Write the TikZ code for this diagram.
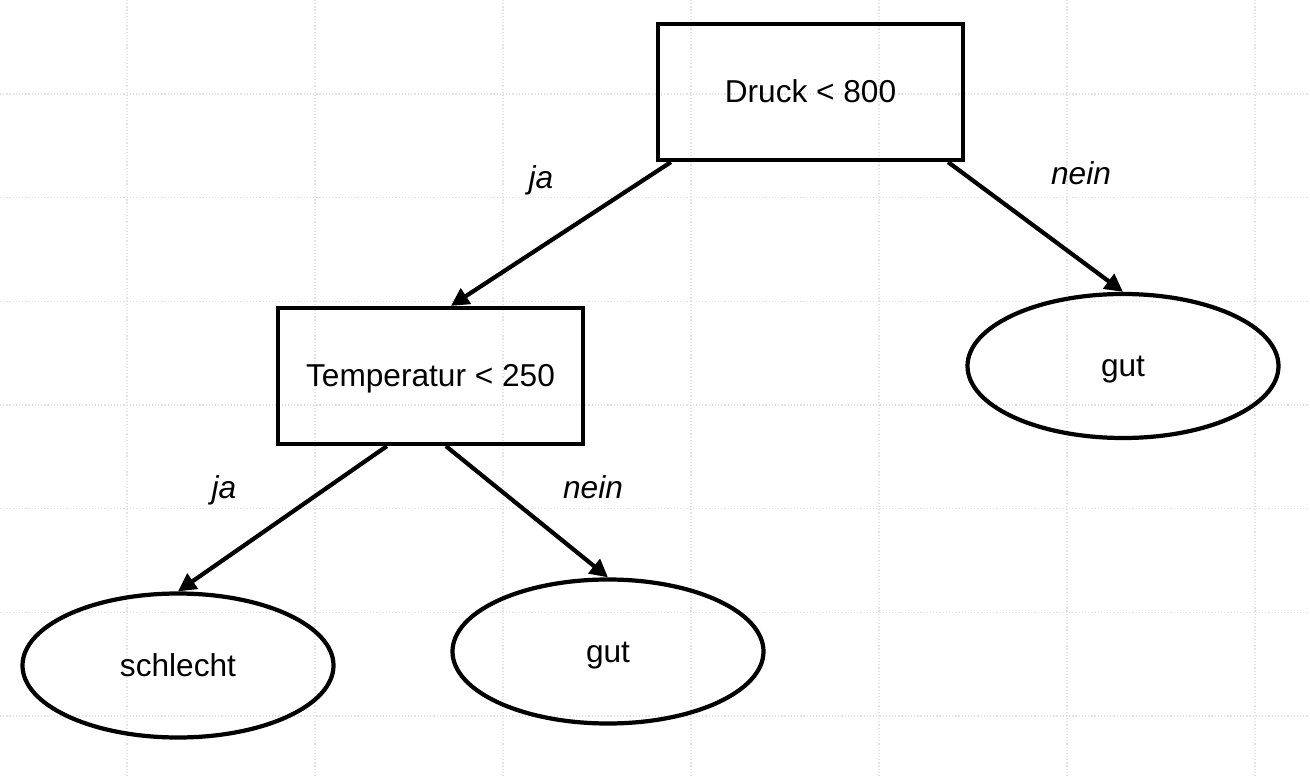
\documentclass[tikz,border=0pt]{standalone}
\usepackage{fontspec}
\setmainfont{Liberation Sans}
\usetikzlibrary{positioning,shapes.geometric,arrows.meta}

\begin{document}
\begin{tikzpicture}[
  test/.style={draw, line width=2.4pt, rectangle, minimum width=6.1cm, minimum height=2.72cm, text height=12pt, text depth=0pt, font=\fontsize{18}{21}\selectfont},
  leaf/.style={draw, line width=2.4pt, ellipse, inner sep=0pt, minimum width=6.22cm, minimum height=2.88cm, text height=12pt, text depth=0pt, font=\fontsize{18}{21}\selectfont},
  answer/.style={font=\fontsize{18}{21}\selectfont\itshape},
  branch/.style={line width=2.4pt, -{Triangle[length=0.36cm,width=0.36cm]}},
  raster/.style={gray!22, line width=0.7pt, dash pattern=on 0.7pt off 1.1pt}
]
\useasboundingbox (0,0) rectangle (26.2,-15.56);
\foreach \x in {2.54,6.3,...,25.2} \draw[raster] (\x,0) -- (\x,-15.56);
\foreach \y in {-1.88,-3.953,...,-15} \draw[raster] (0,\y) -- (26.2,\y);

\node[test] (node_druck) at (16.21,-1.84) {Druck < 800};
\node[test] (node_temp) at (8.61,-7.52) {Temperatur < 250};
\node[leaf] (node_gut_a) at (22.46,-7.32) {gut};
\node[leaf] (node_schlecht) at (3.56,-13.31) {schlecht};
\node[leaf] (node_gut_b) at (12.16,-13.03) {gut};

\node[answer] (ja_a) at (10.82,-3.6) {ja};
\node[answer] (nein_a) at (21.62,-3.46) {nein};
\node[answer] (ja_b) at (4.48,-9.8) {ja};
\node[answer] (nein_b) at (11.86,-9.74) {nein};

\draw[branch] ([xshift=0.3cm]node_druck.south west) -- ([xshift=3.5cm]node_temp.north west);
\draw[branch] ([xshift=-0.34cm]node_druck.south east) -- (node_gut_a.north);
\draw[branch] ([xshift=2.22cm]node_temp.south west) -- (node_schlecht.north);
\draw[branch] ([xshift=3.4cm]node_temp.south west) -- (node_gut_b.north);
\end{tikzpicture}
\end{document}
